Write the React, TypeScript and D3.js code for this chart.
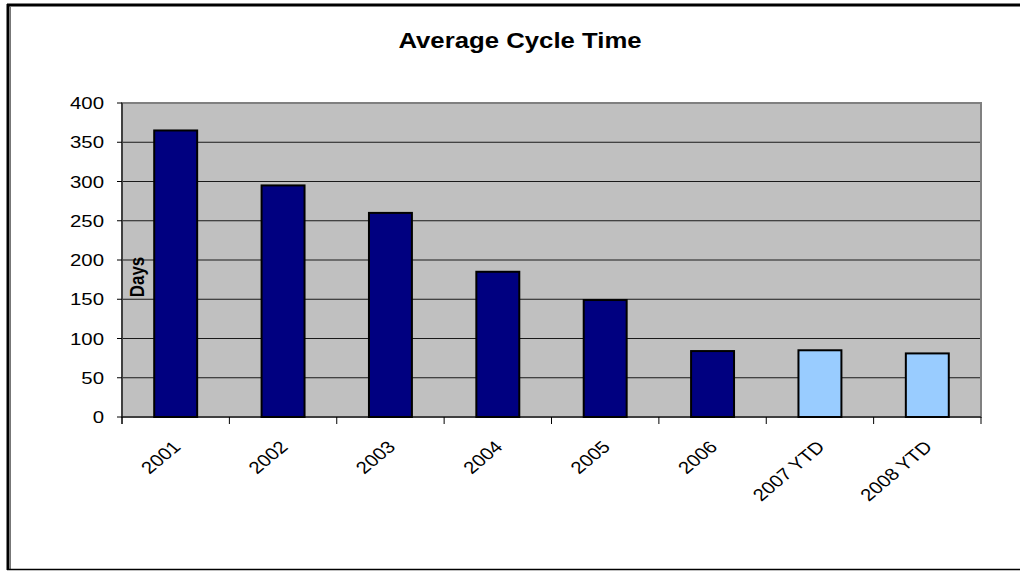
import React, { useEffect, useRef } from 'react';
import * as d3 from 'd3';

const categories = ['2001', '2002', '2003', '2004', '2005', '2006', '2007 YTD', '2008 YTD'];
const cycleDays = [365, 295, 260, 185, 149, 84, 85, 81];
const isYtd = [false, false, false, false, false, false, true, true];
const yTicks = [0, 50, 100, 150, 200, 250, 300, 350, 400];

const FONT = 'Liberation Sans, Arial, sans-serif';
const SX = 1.2; // the original picture is stretched a little horizontally

const App: React.FC = () => {
  const svgRef = useRef<SVGSVGElement>(null);

  useEffect(() => {
    if (!svgRef.current) return;
    const width = 1020;
    const height = 571;
    const plot = { left: 122, right: 981, top: 103, bottom: 417 };

    const svg = d3.select(svgRef.current);
    svg.selectAll('*').remove();

    svg.append('rect').attr('width', width).attr('height', height).attr('fill', '#fff');

    // outer frame (copied chart border)
    svg.append('line').attr('x1', 7).attr('x2', width).attr('y1', 5).attr('y2', 5)
      .attr('stroke', '#000').attr('stroke-width', 3);
    svg.append('line').attr('x1', 8).attr('x2', 8).attr('y1', 4).attr('y2', 570)
      .attr('stroke', '#000').attr('stroke-width', 3);
    svg.append('line').attr('x1', 10.5).attr('x2', 10.5).attr('y1', 6).attr('y2', 569)
      .attr('stroke', '#777').attr('stroke-width', 1);
    svg.append('line').attr('x1', 7).attr('x2', width).attr('y1', 569.5).attr('y2', 569.5)
      .attr('stroke', '#000').attr('stroke-width', 1.5);

    const x = d3.scaleBand<string>()
      .domain(categories)
      .range([plot.left, plot.right])
      .paddingInner(0.6)
      .paddingOuter(0.3);

    const y = d3.scaleLinear().domain([0, 400]).range([plot.bottom, plot.top]);

    // plot area
    svg.append('rect')
      .attr('x', plot.left).attr('y', plot.top)
      .attr('width', plot.right - plot.left).attr('height', plot.bottom - plot.top)
      .attr('fill', '#c0c0c0');

    // gridlines
    svg.append('g')
      .selectAll('line')
      .data(yTicks.filter(t => t > 0 && t < 400))
      .join('line')
      .attr('x1', plot.left).attr('x2', plot.right)
      .attr('y1', d => y(d)).attr('y2', d => y(d))
      .attr('stroke', '#1a1a1a').attr('stroke-width', 1);

    // plot border
    svg.append('rect')
      .attr('x', plot.left).attr('y', plot.top)
      .attr('width', plot.right - plot.left).attr('height', plot.bottom - plot.top)
      .attr('fill', 'none').attr('stroke', '#808080').attr('stroke-width', 2);

    // bars
    svg.append('g')
      .selectAll('rect')
      .data(categories)
      .join('rect')
      .attr('x', d => x(d) as number)
      .attr('width', x.bandwidth())
      .attr('y', (d, i) => y(cycleDays[i]))
      .attr('height', (d, i) => y(0) - y(cycleDays[i]))
      .attr('fill', (d, i) => (isYtd[i] ? '#99ccff' : '#000080'))
      .attr('stroke', '#000').attr('stroke-width', 2);

    // y axis
    const yg = svg.append('g');
    yg.append('line').attr('x1', plot.left).attr('x2', plot.left)
      .attr('y1', plot.top).attr('y2', plot.bottom + 7).attr('stroke', '#000');
    yg.selectAll('line.tk').data(yTicks).join('line').attr('class', 'tk')
      .attr('x1', plot.left - 5).attr('x2', plot.left)
      .attr('y1', d => y(d)).attr('y2', d => y(d))
      .attr('stroke', '#000');
    yg.selectAll('text').data(yTicks).join('text')
      .attr('transform', d => `translate(104,${y(d)}) scale(${SX},1)`)
      .attr('text-anchor', 'end')
      .attr('dy', '0.36em')
      .attr('font-family', FONT)
      .attr('font-size', 17)
      .attr('fill', '#000')
      .text(d => d);

    // x axis with ticks between categories
    const edges = d3.range(categories.length + 1)
      .map(i => plot.left + i * ((plot.right - plot.left) / categories.length));
    const xg = svg.append('g');
    xg.append('line').attr('x1', plot.left).attr('x2', plot.right)
      .attr('y1', plot.bottom).attr('y2', plot.bottom).attr('stroke', '#000');
    xg.selectAll('line.tk').data(edges).join('line').attr('class', 'tk')
      .attr('x1', d => d).attr('x2', d => d)
      .attr('y1', plot.bottom).attr('y2', plot.bottom + 7)
      .attr('stroke', '#000');
    xg.selectAll('text').data(categories).join('text')
      .attr('transform', d => `translate(${(x(d) as number) + x.bandwidth() / 2 + 6},448) scale(${SX},1) rotate(-45)`)
      .attr('text-anchor', 'end')
      .attr('font-family', FONT)
      .attr('font-size', 17)
      .attr('fill', '#000')
      .text(d => d);

    // y label
    svg.append('text')
      .attr('transform', `translate(144,277) scale(${SX},1) rotate(-90)`)
      .attr('text-anchor', 'middle')
      .attr('font-family', FONT)
      .attr('font-size', 17).attr('font-weight', 'bold')
      .text('Days');

    // title
    svg.append('text')
      .attr('transform', `translate(520,48) scale(1.17,1)`)
      .attr('text-anchor', 'middle')
      .attr('font-family', FONT)
      .attr('font-size', 22).attr('font-weight', 'bold')
      .text('Average Cycle Time');
  }, []);

  return (
    <svg ref={svgRef} width={1020} height={571} style={{ position: 'absolute', left: 0, top: 0, display: 'block' }} />
  );
};

export default App;
